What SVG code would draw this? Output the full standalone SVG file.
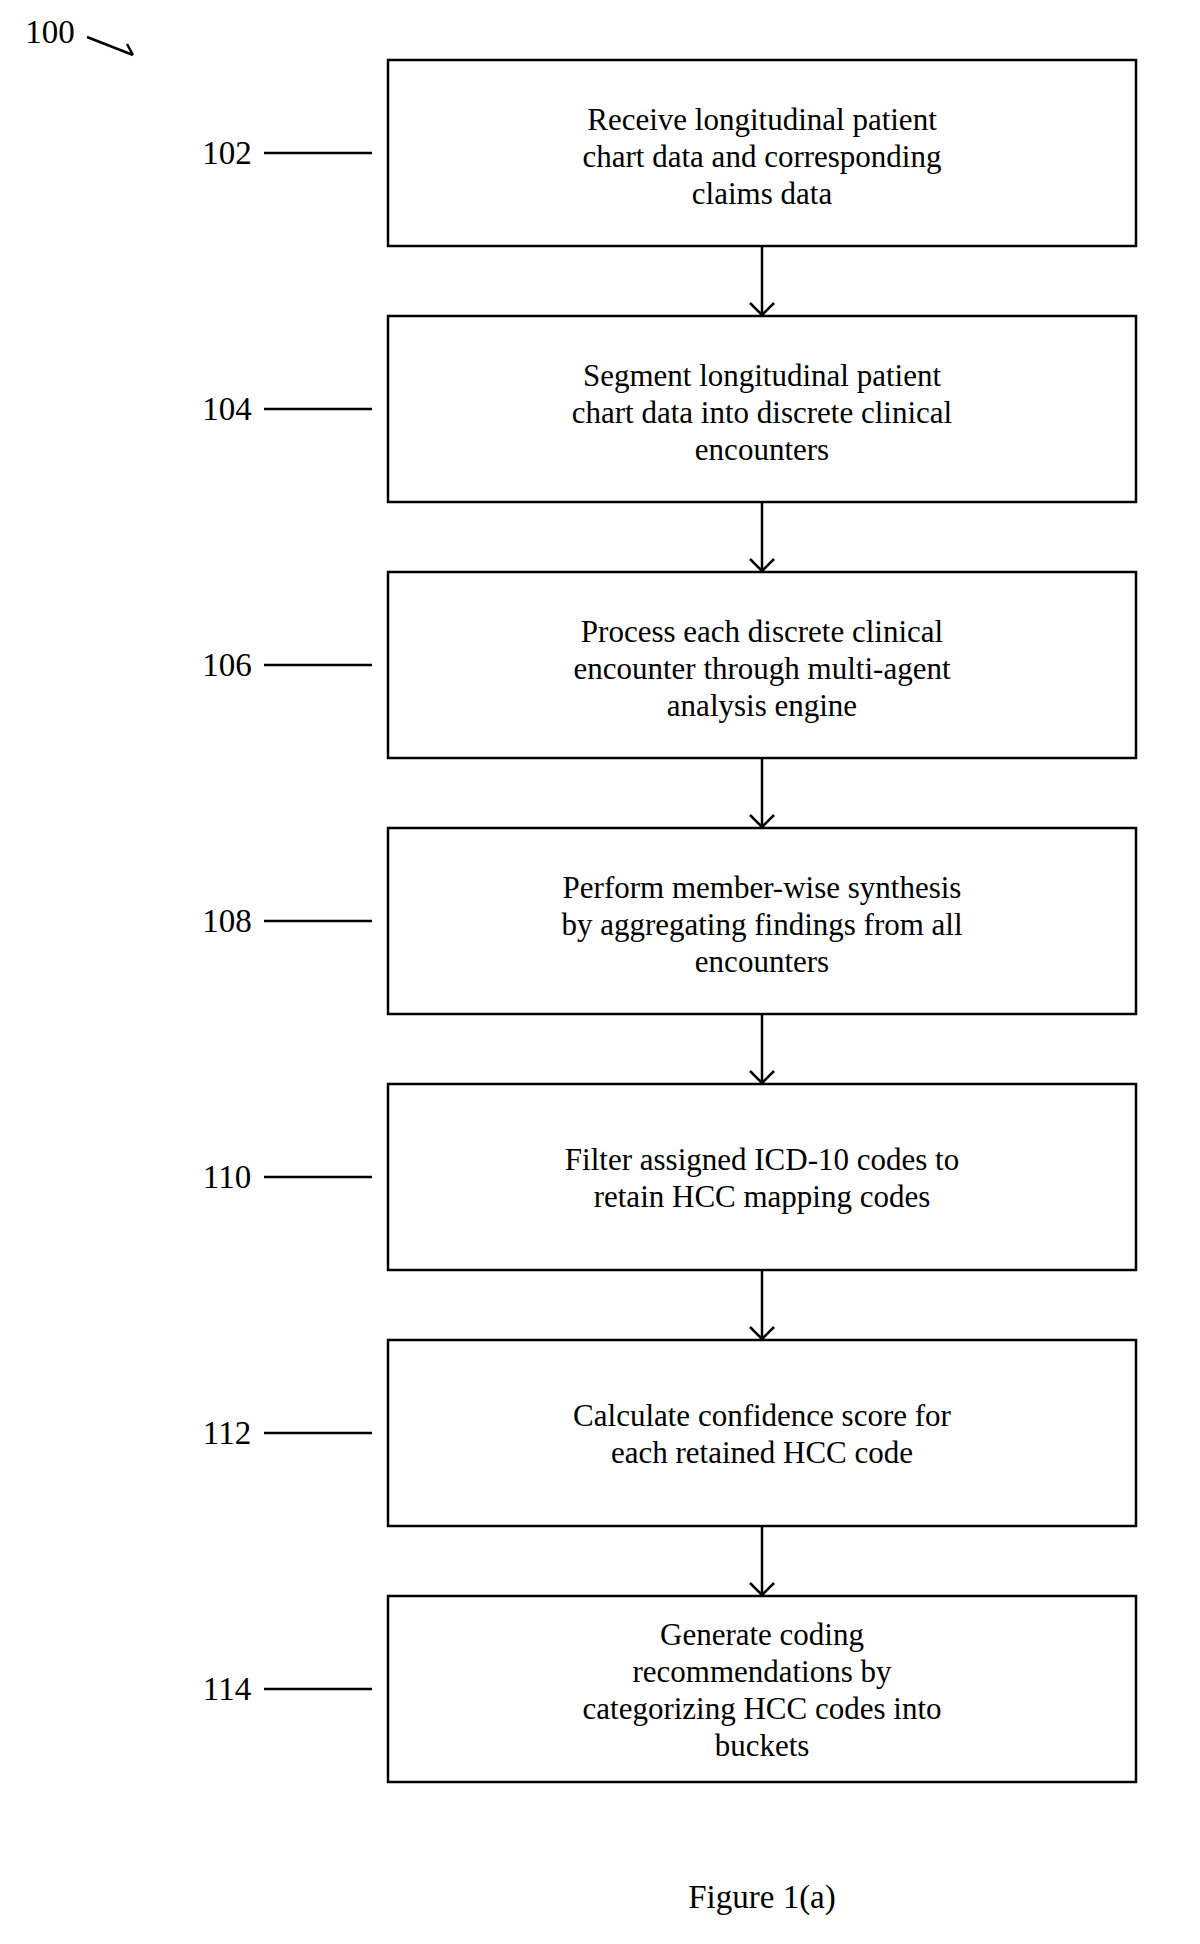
<svg xmlns="http://www.w3.org/2000/svg" width="1200" height="1944" viewBox="0 0 1200 1944">
<style>
.b{fill:#fff;stroke:#000;stroke-width:2.5}
.t{font-family:"Liberation Serif",serif;font-size:31px;text-anchor:middle;fill:#000}
.l{font-family:"Liberation Serif",serif;font-size:33px;text-anchor:middle;fill:#000}
.c{stroke:#000;stroke-width:2.5;fill:none}
</style>
<defs><marker id="a" markerWidth="30" markerHeight="30" refX="14" refY="14" orient="auto" markerUnits="userSpaceOnUse"><path d="M2,2 L14,14 L2,26" fill="none" stroke="#000" stroke-width="2.5"/></marker></defs>
<rect width="1200" height="1944" fill="#fff"/>
<g id="ref100"><text x="50" y="43" class="l">100</text><path class="c" d="M87,37 L133,55 M133,55 L127,44"/></g>
<g id="connectors">
<line class="c" x1="762" y1="246" x2="762" y2="315" marker-end="url(#a)"/>
<line class="c" x1="762" y1="502" x2="762" y2="571" marker-end="url(#a)"/>
<line class="c" x1="762" y1="758" x2="762" y2="827" marker-end="url(#a)"/>
<line class="c" x1="762" y1="1014" x2="762" y2="1083" marker-end="url(#a)"/>
<line class="c" x1="762" y1="1270" x2="762" y2="1339" marker-end="url(#a)"/>
<line class="c" x1="762" y1="1526" x2="762" y2="1595" marker-end="url(#a)"/>
<line class="c" x1="264" y1="153" x2="372" y2="153"/>
<line class="c" x1="264" y1="409" x2="372" y2="409"/>
<line class="c" x1="264" y1="665" x2="372" y2="665"/>
<line class="c" x1="264" y1="921" x2="372" y2="921"/>
<line class="c" x1="264" y1="1177" x2="372" y2="1177"/>
<line class="c" x1="264" y1="1433" x2="372" y2="1433"/>
<line class="c" x1="264" y1="1689" x2="372" y2="1689"/>
</g>
<g id="n102"><rect class="b" x="388" y="60" width="748" height="186"/><text class="l" x="227" y="164">102</text><text class="t" x="762" y="130">Receive longitudinal patient</text><text class="t" x="762" y="167">chart data and corresponding</text><text class="t" x="762" y="204">claims data</text></g>
<g id="n104"><rect class="b" x="388" y="316" width="748" height="186"/><text class="l" x="227" y="420">104</text><text class="t" x="762" y="386">Segment longitudinal patient</text><text class="t" x="762" y="423">chart data into discrete clinical</text><text class="t" x="762" y="460">encounters</text></g>
<g id="n106"><rect class="b" x="388" y="572" width="748" height="186"/><text class="l" x="227" y="676">106</text><text class="t" x="762" y="642">Process each discrete clinical</text><text class="t" x="762" y="679">encounter through multi-agent</text><text class="t" x="762" y="716">analysis engine</text></g>
<g id="n108"><rect class="b" x="388" y="828" width="748" height="186"/><text class="l" x="227" y="932">108</text><text class="t" x="762" y="898">Perform member-wise synthesis</text><text class="t" x="762" y="935">by aggregating findings from all</text><text class="t" x="762" y="972">encounters</text></g>
<g id="n110"><rect class="b" x="388" y="1084" width="748" height="186"/><text class="l" x="227" y="1188">110</text><text class="t" x="762" y="1170">Filter assigned ICD-10 codes to</text><text class="t" x="762" y="1207">retain HCC mapping codes</text></g>
<g id="n112"><rect class="b" x="388" y="1340" width="748" height="186"/><text class="l" x="227" y="1444">112</text><text class="t" x="762" y="1426">Calculate confidence score for</text><text class="t" x="762" y="1463">each retained HCC code</text></g>
<g id="n114"><rect class="b" x="388" y="1596" width="748" height="186"/><text class="l" x="227" y="1700">114</text><text class="t" x="762" y="1645">Generate coding</text><text class="t" x="762" y="1682">recommendations by</text><text class="t" x="762" y="1719">categorizing HCC codes into</text><text class="t" x="762" y="1756">buckets</text></g>
<text class="l" x="762" y="1908" font-size="46">Figure 1(a)</text>
</svg>
